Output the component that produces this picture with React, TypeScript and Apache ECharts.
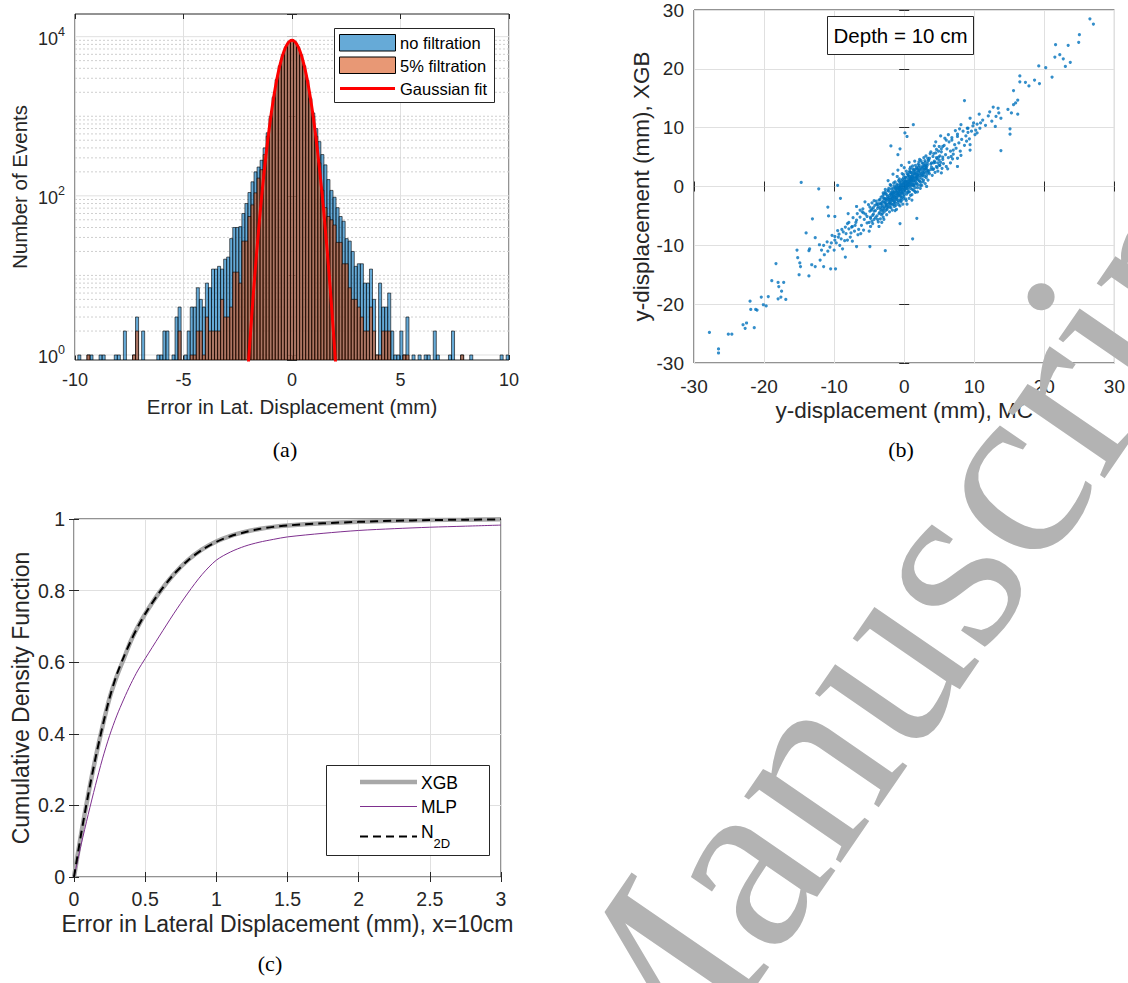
import React, { useEffect, useRef } from 'react';
import * as echarts from 'echarts';

// ---------------- (a) histogram ----------------
const binStart = -10.01;
const binWidth = 0.14;
// counts per bin (143 bins), "no filtration"
const noFiltration = [
  0, 1, 0, 0, 1, 1, 0, 0, 1, 1,
  0, 0, 0, 1, 1, 0, 2, 0, 0, 1,
  3, 0, 2, 0, 0, 0, 0, 1, 1, 2,
  2, 0, 1, 3, 4, 0, 1, 2, 4, 4,
  7, 5, 4, 8, 7, 12, 12, 13, 12, 16,
  17, 29, 40, 40, 41, 60, 80, 110, 150, 200,
  230, 280, 400, 620, 1000, 1750, 2900, 4300, 5900, 7400,
  8600, 9200, 8600, 7400, 5900, 4300, 2850, 1700, 1100, 700,
  480, 330, 245, 160, 117, 96, 71, 55, 48, 29,
  27, 20, 13, 14, 14, 8, 8, 12, 5, 1,
  8, 4, 4, 6, 2, 1, 1, 2, 1, 3,
  0, 1, 0, 1, 0, 1, 1, 0, 2, 1,
  0, 0, 0, 1, 2, 0, 0, 1, 0, 0,
  1, 0, 0, 0, 0, 0, 0, 0, 0, 0,
  1, 0, 1,
];
// counts per bin, "5% filtration"
const filtration5 = [
  0, 0, 0, 0, 1, 0, 0, 0, 0, 0,
  0, 0, 0, 0, 0, 0, 0, 0, 0, 1,
  2, 0, 0, 0, 0, 0, 0, 0, 0, 0,
  0, 0, 0, 0, 2, 0, 0, 0, 1, 1,
  2, 2, 1, 3, 2, 2, 2, 2, 5, 3,
  3, 4, 11, 11, 8, 27, 27, 55, 77, 109,
  167, 213, 330, 560, 950, 1700, 2850, 4250, 5850, 7350,
  8550, 9150, 8550, 7350, 5850, 4250, 2800, 1650, 1000, 560,
  260, 118, 71, 55, 50, 43, 26, 26, 14, 14,
  7, 5, 5, 4, 3, 2, 2, 4, 2, 1,
  1, 2, 2, 2, 0, 0, 0, 0, 1, 1,
  0, 0, 0, 0, 0, 0, 0, 0, 0, 0,
  0, 0, 0, 0, 0, 0, 0, 1, 0, 0,
  0, 0, 0, 0, 0, 0, 0, 0, 0, 0,
  0, 0, 0,
];
const gaussFitX = [-2.1, -2.0, -1.9, -1.8, -1.7, -1.6, -1.5, -1.4, -1.3, -1.2, -1.1, -1.0, -0.9, -0.8, -0.7, -0.6, -0.5, -0.4, -0.3, -0.2, -0.1, 0,
  0.1, 0.2, 0.3, 0.4, 0.5, 0.6, 0.7, 0.8, 0.9, 1.0, 1.1, 1.2, 1.3, 1.4, 1.5, 1.6, 1.7, 1.8, 1.9, 2.0, 2.1];
const gaussFitY = [0.33, 0.86, 2.1, 5.0, 11.2, 24, 49, 97, 181, 322, 548, 891, 1380, 2050, 2900, 3910, 5050, 6210, 7310, 8200, 8790, 9000,
  8790, 8200, 7310, 6210, 5050, 3910, 2900, 2050, 1380, 891, 548, 322, 181, 97, 49, 24, 11.2, 5.0, 2.1, 0.86, 0.33];
const histYMin = 0.865;
const histYMax = 19270;
const histMajorGrid = [1, 100, 10000];
const histMinorGrid = [2, 3, 4, 5, 6, 7, 8, 9, 10, 20, 30, 40, 50, 60, 70, 80, 90,
  200, 300, 400, 500, 600, 700, 800, 900, 1000, 2000, 3000, 4000, 5000, 6000, 7000, 8000, 9000];

// ---------------- (b) scatter: MC vs XGB ----------------
const scatterTails = [
  [26.5, 28.5], [27.0, 27.6], [25.0, 25.8], [24.9, 24.5], [23.4, 24.0], [21.6, 24.1], [22.2, 22.4], [22.7, 21.7], [21.5, 22.0], [23.7, 21.1],
  [23.0, 20.4], [21.1, 18.6], [19.2, 20.5], [20.2, 20.2], [19.3, 17.5], [18.6, 18.1], [17.8, 17.1], [17.3, 17.7], [16.5, 18.8], [16.5, 17.8],
  [15.6, 16.3], [16.2, 14.7], [15.9, 14.2], [15.6, 13.9], [14.8, 13.1], [15.3, 12.5], [16.2, 12.3], [13.4, 13.3], [12.7, 13.5], [13.5, 12.5],
  [13.1, 11.9], [13.8, 11.6], [12.2, 12.7], [10.7, 12.3], [10.9, 10.8], [13.0, 10.2], [15.1, 9.8], [15.1, 8.9], [13.8, 6.1], [8.6, 14.6],
  [9.4, 11.6], [9.9, 10.8], [8.1, 10.5], [10.2, 9.6], [9.0, 9.9], [9.1, 9.2], [10.4, 9.1], [7.6, 8.5], [9.4, 7.1], [9.4, 6.2],
  [6.3, 8.8], [5.2, 8.6], [6.8, 7.9], [5.5, 6.8], [7.0, 6.2], [7.6, 4.8], [6.6, 4.0], [7.6, 3.4], [6.0, 3.4], [5.3, 2.3], [4.8, 4.0],
  [1.3, 10.5], [0.1, 9.1], [0.4, 8.5], [-0.6, 6.4], [-1.9, 6.9], [-0.9, 5.4], [-9.5, 0.2], [-12.2, -0.4], [-14.7, 0.7], [-9.1, -2.0],
  [-10.9, -3.5], [-10.8, -5.0], [-13.1, -5.5], [-9.9, -5.1], [-14.0, -7.9], [-12.7, -8.7], [-12.1, -9.9], [-13.5, -10.6], [-13.6, -10.9], [-15.3, -10.8],
  [-15.2, -12.1], [-14.9, -13.0], [-14.8, -13.6], [-15.0, -15.0], [-13.6, -15.2], [-13.2, -13.3], [-12.7, -13.6], [-12.0, -12.5], [-11.5, -13.6], [-10.5, -14.0],
  [-9.8, -14.0], [-10.9, -11.0], [-11.5, -10.0], [-10.4, -9.6], [-9.9, -9.1], [-9.4, -8.6], [-8.4, -12.0], [-6.8, -10.2], [-4.9, -10.2], [-2.7, -10.9],
  [1.2, -8.9], [1.8, -5.4], [-0.6, -6.3], [-3.6, -6.8], [-3.2, -6.1],
  [-18.3, -13.1], [-18.0, -16.3], [-17.9, -17.0], [-17.2, -16.3], [-17.5, -17.8], [-17.6, -18.8], [-18.0, -19.1], [-16.9, -19.2], [-19.4, -18.7], [-20.4, -18.8],
  [-20.1, -20.1], [-19.7, -20.3], [-22.0, -19.5], [-21.9, -20.9], [-21.2, -20.9], [-21.0, -21.0], [-23.0, -23.5], [-22.5, -23.2], [-22.7, -24.1], [-21.4, -24.0],
  [-25.1, -25.1], [-24.6, -25.1], [-27.8, -24.8], [-26.5, -27.6], [-26.5, -28.3], [-18.9, -16.0],
  [-7.9, -6.1], [-7.4, -6.8], [-6.8, -5.7], [-5.8, -4.5], [-5.3, -5.1], [-7.6, -7.9], [-8.9, -7.3], [-9.9, -8.5], [-8.1, -9.1], [-6.6, -8.2],
  [-5.8, -7.4], [-4.8, -5.4], [-4.3, -4.2], [-3.7, -3.4], [-6.3, -4.0],
];
const scatterBandUpper = [
  [3.6, 4.8], [3.9, 3.3], [4.2, 5.6], [4.4, 4.1], [4.6, 6.3], [4.9, 5.0], [5.1, 3.6], [5.3, 5.9], [5.5, 4.6], [5.7, 7.0],
  [5.9, 5.4], [6.1, 6.4], [6.3, 4.9], [6.4, 7.6], [6.6, 6.0], [6.8, 8.3], [7.0, 5.5], [7.2, 7.1], [7.4, 6.5], [7.6, 8.9],
  [7.8, 7.4], [8.0, 6.0], [8.2, 8.0], [8.4, 9.4], [8.6, 7.0], [8.8, 8.6], [9.1, 9.9], [9.3, 8.1], [9.6, 9.4], [9.8, 10.3],
  [10.1, 8.8], [10.4, 10.6], [10.8, 9.9], [11.2, 11.3], [11.6, 10.4], [12.0, 12.0], [12.5, 11.1], [3.8, 5.9], [4.1, 2.9], [4.7, 3.2],
  [5.0, 6.8], [5.6, 3.9], [6.0, 7.9], [6.9, 4.7], [7.3, 9.5], [8.1, 5.3], [4.3, 6.9], [3.5, 2.6], [5.8, 8.2], [6.7, 5.1],
  [7.9, 9.8], [8.9, 7.7], [6.2, 3.0], [4.5, 7.6],
];
const scatterBandLower = [
  [-3.6, -4.6], [-3.9, -2.9], [-4.1, -5.3], [-4.4, -3.6], [-4.6, -5.9], [-4.9, -4.2], [-5.1, -3.1], [-5.3, -6.2], [-5.5, -4.7], [-5.7, -5.6],
  [-5.9, -3.8], [-6.1, -6.6], [-6.3, -5.2], [-6.5, -7.3], [-6.7, -4.6], [-6.9, -6.1], [-7.1, -7.6], [-7.3, -5.3], [-7.5, -6.9], [-7.7, -8.6],
  [-7.9, -7.2], [-8.1, -6.3], [-8.3, -8.0], [-8.5, -9.2], [-8.7, -7.7], [-9.0, -8.9], [-9.2, -10.0], [-9.5, -7.5], [-9.7, -9.6], [-10.0, -10.8],
  [-10.3, -8.3], [-10.6, -10.3], [-11.0, -9.4], [-11.4, -11.6], [-11.8, -10.8], [-3.8, -5.6], [-4.3, -2.4], [-4.8, -6.8], [-5.6, -2.6], [-6.2, -8.0],
  [-6.8, -3.4], [-7.4, -9.3], [-8.0, -4.6], [-8.8, -10.6], [-5.0, -7.6], [-6.0, -4.3], [-7.0, -6.6], [-8.4, -6.9], [-9.3, -8.1], [-4.5, -4.9],
];
const scatterCore = [
  [-3.4, -3.6], [-3.3, -2.9], [-3.2, -4.1], [-3.1, -3.2], [-3.0, -2.5], [-2.9, -3.7], [-2.8, -2.8], [-2.7, -2.1], [-2.6, -3.3], [-2.5, -2.4],
  [-2.4, -1.7], [-2.3, -3.0], [-2.2, -2.2], [-2.1, -1.5], [-2.0, -2.7], [-1.9, -1.9], [-1.8, -1.2], [-1.7, -2.4], [-1.6, -1.6], [-1.5, -0.9],
  [-1.4, -2.1], [-1.3, -1.3], [-1.2, -0.6], [-1.1, -1.8], [-1.0, -1.0], [-0.9, -0.3], [-0.8, -1.5], [-0.7, -0.7], [-0.6, 0.0], [-0.5, -1.2],
  [-0.4, -0.4], [-0.3, 0.3], [-0.2, -0.9], [-0.1, -0.1], [0.0, 0.6], [0.1, -0.6], [0.2, 0.2], [0.3, 0.9], [0.4, -0.3], [0.5, 0.5],
  [0.6, 1.2], [0.7, 0.0], [0.8, 0.8], [0.9, 1.5], [1.0, 0.3], [1.1, 1.1], [1.2, 1.8], [1.3, 0.6], [1.4, 1.4], [1.5, 2.1],
  [1.6, 0.9], [1.7, 1.7], [1.8, 2.4], [1.9, 1.2], [2.0, 2.0], [2.1, 2.7], [2.2, 1.5], [2.3, 2.3], [2.4, 3.0], [2.5, 1.8],
  [2.6, 2.6], [2.7, 3.3], [2.8, 2.1], [2.9, 2.9], [3.0, 3.6], [3.1, 2.4], [3.2, 3.2], [3.3, 3.9], [3.4, 2.7],
  [-3.45, -2.2], [-3.25, -4.8], [-3.05, -1.6], [-2.85, -4.3], [-2.65, -1.2], [-2.45, -3.9], [-2.25, -0.8], [-2.05, -3.5], [-1.85, -0.4], [-1.65, -3.1],
  [-1.45, 0.1], [-1.25, -2.8], [-1.05, 0.4], [-0.85, -2.4], [-0.65, 0.8], [-0.45, -2.0], [-0.25, 1.2], [-0.05, -1.7], [0.15, 1.6], [0.35, -1.3],
  [0.55, 2.0], [0.75, -0.9], [0.95, 2.4], [1.15, -0.5], [1.35, 2.8], [1.55, -0.2], [1.75, 3.2], [1.95, 0.3], [2.15, 3.6], [2.35, 0.7],
  [2.55, 4.0], [2.75, 1.1], [2.95, 4.4], [3.15, 1.5], [3.35, 4.8],
  [-3.35, -3.0], [-3.15, -3.5], [-2.95, -2.0], [-2.75, -2.6], [-2.55, -2.9], [-2.35, -2.0], [-2.15, -2.5], [-1.95, -1.3], [-1.75, -2.0], [-1.55, -1.2],
  [-1.35, -1.8], [-1.15, -0.9], [-0.95, -1.4], [-0.75, -0.2], [-0.55, -0.8], [-0.35, -1.1], [-0.15, 0.4], [0.05, -0.3], [0.25, 0.7], [0.45, 0.1],
  [0.65, 0.5], [0.85, 1.3], [1.05, 0.9], [1.25, 1.5], [1.45, 1.0], [1.65, 2.2], [1.85, 1.6], [2.05, 2.5], [2.25, 1.9], [2.45, 2.2],
  [2.65, 3.0], [2.85, 2.5], [3.05, 3.1], [3.25, 2.8], [-0.05, 0.9], [0.15, -0.9], [0.35, 0.4], [-0.25, -0.5], [0.55, -0.5], [-0.45, 0.6],
  [0.75, 1.7], [-0.65, -1.6], [0.95, 0.1], [-0.85, 0.2], [1.15, 2.0], [-1.05, -2.2], [1.35, 0.2], [-1.25, -0.2], [1.55, 2.6], [-1.45, -2.5],
  [1.75, 0.6], [-1.65, -0.8], [1.95, 2.9], [-1.85, -2.9],
  [-2.9, -1.3], [-2.6, -4.0], [-2.2, -0.3], [-1.9, -3.6], [-1.5, 0.6], [-1.2, -3.2], [-0.8, 1.0], [-0.5, -2.6], [-0.1, 1.5], [0.2, -2.1],
  [0.6, 1.9], [0.9, -1.5], [1.3, 2.5], [1.6, -1.0], [2.0, 3.3], [2.3, -0.3], [2.7, 3.9], [3.0, 0.5], [3.4, 4.3], [-0.3, 2.2],
  [0.3, 2.6], [-0.6, -3.3], [0.8, 3.0], [-1.0, 1.7], [1.1, -2.3], [-1.6, 2.1], [1.9, -0.9], [-2.3, 1.0], [2.5, 0.2], [0.0, 3.2],
  [0.4, -3.0], [-0.9, 2.8], [1.2, 3.5], [-1.3, -4.1], [-2.0, 0.3], [2.2, 4.6], [3.2, 0.0], [-3.0, -5.2], [0.7, 4.1], [-0.4, 3.6],
  [1.5, 4.3], [-2.7, -0.5],
  [-0.2, 0.1], [0.1, 0.3], [0.3, -0.1], [-0.4, -0.2], [0.5, 0.8], [-0.6, -0.5], [0.7, 0.4], [-0.8, -0.9], [0.9, 0.7], [-1.0, -0.6],
  [1.1, 1.4], [-1.2, -1.5], [1.3, 1.0], [-1.4, -1.0], [1.5, 1.6], [-1.6, -2.0], [1.7, 1.3], [-1.8, -1.6], [1.9, 2.0], [-2.0, -2.2],
  [0.0, -0.5], [0.2, 0.9], [-0.1, 0.7], [0.4, 0.1], [-0.3, -0.8], [0.6, 0.2], [-0.5, 0.2], [0.8, 1.1], [-0.7, -1.2], [1.0, 1.7],
];
const scatterCoreWide = [
  [-5.0, -6.1], [-4.9, -3.5], [-4.8, -5.2], [-4.7, -4.0], [-4.6, -2.8], [-4.5, -6.3], [-4.4, -4.7], [-4.3, -5.6], [-4.2, -3.2], [-4.1, -4.1],
  [-4.0, -2.5], [-3.9, -5.0], [-3.8, -3.7], [-3.7, -6.0], [-3.6, -2.3], [-3.5, -4.4], [-3.4, -5.5], [-3.3, -1.8], [-3.2, -2.7], [-3.1, -4.6],
  [-3.0, -1.1], [-2.9, -5.6], [-2.8, -3.5], [-2.7, -0.9], [-2.6, -2.2], [-2.5, -4.8], [-2.4, -3.6], [-2.3, -0.6], [-2.2, -1.9], [-2.1, -4.3],
  [-2.0, -3.1], [-1.9, 0.2], [-1.8, -2.3], [-1.7, -4.0], [-1.6, -0.3], [-1.5, -1.7], [-1.4, -3.4], [-1.3, 0.8], [-1.2, -2.2], [-1.1, -3.9],
  [-1.0, -0.2], [-0.9, -1.2], [-0.8, -3.1], [-0.7, 1.3], [-0.6, -2.3], [-0.5, -0.3], [-0.4, 1.0], [-0.3, -1.8], [-0.2, -3.0], [-0.1, 2.0],
  [0.0, -1.4], [0.1, 1.2], [0.2, -0.4], [0.3, -2.4], [0.4, 2.2], [0.5, -1.0], [0.6, 0.9], [0.7, -2.0], [0.8, 2.6], [0.9, -0.3],
  [1.0, 1.2], [1.1, -1.4], [1.2, 3.0], [1.3, 0.1], [1.4, 2.2], [1.5, -0.8], [1.6, 3.6], [1.7, 0.4], [1.8, 1.4], [1.9, -0.2],
  [2.0, 3.8], [2.1, 1.0], [2.2, 2.8], [2.3, 0.2], [2.4, 4.4], [2.5, 1.3], [2.6, 3.4], [2.7, 0.8], [2.8, 4.9], [2.9, 1.7],
  [3.0, 3.0], [3.1, 5.2], [3.2, 1.9], [3.3, 3.6], [3.4, 1.1], [3.5, 4.5], [3.6, 2.2], [3.7, 5.6], [3.8, 2.9], [3.9, 4.0],
  [4.0, 1.9], [4.1, 5.1], [4.2, 3.0], [4.3, 4.3], [4.4, 2.4], [4.5, 5.7], [4.6, 3.4], [4.7, 4.7], [4.8, 2.6], [4.9, 6.0],
  [5.0, 3.6], [5.1, 5.2], [5.2, 4.1], [5.3, 6.4], [5.4, 3.1], [5.5, 5.0],
  [-4.6, -3.8], [-3.9, -3.1], [-3.4, -3.9], [-2.8, -2.0], [-2.3, -3.4], [-1.9, -1.0], [-1.4, -2.6], [-1.0, -1.9], [-0.6, 0.4], [-0.2, -1.2],
  [0.2, 1.5], [0.6, -0.9], [1.0, 2.3], [1.4, 0.3], [1.8, 3.0], [2.2, 0.9], [2.6, 1.9], [3.0, 4.1], [3.4, 2.3], [3.8, 3.8],
  [4.2, 4.0], [4.6, 4.9], [5.0, 4.5], [-1.7, -1.3], [-1.3, -0.3], [-0.9, -2.7], [-0.5, -1.6], [-0.1, -2.1], [0.3, 0.0], [0.7, 2.4],
  [1.1, 0.4], [1.5, 2.9], [1.9, 1.8], [2.3, 3.2], [2.7, 2.3], [3.1, 3.4], [-2.5, -1.4], [-2.1, -2.8], [-1.5, -3.0], [-0.4, -2.4],
  [0.5, 1.6], [0.9, 3.3], [1.3, -0.6], [2.1, 4.2], [2.9, 3.6], [-3.6, -2.9], [-3.0, -4.0], [-2.6, -3.1], [-1.1, 0.1], [-0.7, -0.4],
];

// ---------------- (c) CDF ----------------
const cdfErrorMm = [0, 0.05, 0.1, 0.15, 0.2, 0.25, 0.3, 0.35, 0.4, 0.45, 0.5, 0.6, 0.7, 0.8, 0.9, 1.0, 1.1, 1.2, 1.3, 1.4, 1.5, 1.75, 2.0, 2.25, 2.5, 2.75, 3.0];
const cdfXgb = [0, 0.12, 0.23, 0.33, 0.42, 0.50, 0.56, 0.61, 0.66, 0.70, 0.735, 0.795, 0.845, 0.885, 0.915, 0.937, 0.953, 0.964, 0.972, 0.978, 0.982, 0.988, 0.992, 0.995, 0.997, 0.998, 0.999];
const cdfMlp = [0, 0.09, 0.175, 0.255, 0.33, 0.395, 0.45, 0.497, 0.54, 0.578, 0.61, 0.673, 0.735, 0.793, 0.845, 0.885, 0.908, 0.924, 0.935, 0.943, 0.95, 0.96, 0.968, 0.973, 0.977, 0.98, 0.983];
const cdfN2d = [0, 0.12, 0.23, 0.33, 0.42, 0.50, 0.565, 0.615, 0.66, 0.70, 0.735, 0.795, 0.845, 0.884, 0.914, 0.936, 0.952, 0.963, 0.972, 0.978, 0.982, 0.988, 0.992, 0.995, 0.997, 0.998, 0.999];

const AX = '#262626';
const GRID_C = '#e0e0e0';
const FONT = '"Liberation Sans", Arial, Helvetica, sans-serif';
const SERIF = '"Liberation Serif", "Times New Roman", serif';

function boxAxisX(gridIndex: number, min: number, max: number, interval: number) {
  return {
    gridIndex, type: 'value', position: 'top', min, max, interval,
    axisLine: { show: false }, axisLabel: { show: false }, splitLine: { show: false },
    axisTick: { show: true, inside: true, length: 5, lineStyle: { color: AX } },
  };
}
function boxAxisY(gridIndex: number, min: number, max: number, interval: number) {
  return {
    gridIndex, type: 'value', position: 'right', min, max, interval,
    axisLine: { show: false }, axisLabel: { show: false }, splitLine: { show: false },
    axisTick: { show: true, inside: true, length: 5, lineStyle: { color: AX } },
  };
}
function mainX(gridIndex: number, min: number, max: number, interval: number, name: string, fs: number, nfs: number, margin: number, gap: number) {
  return {
    gridIndex, type: 'value', position: 'bottom', min, max, interval,
    axisLine: { show: false },
    axisTick: { show: true, inside: true, length: 5, lineStyle: { color: AX } },
    axisLabel: { color: AX, fontSize: fs, fontFamily: FONT, margin, showMinLabel: true, showMaxLabel: true, hideOverlap: false },
    splitLine: { show: true, lineStyle: { color: GRID_C, width: 1 } },
    name, nameLocation: 'middle', nameGap: gap,
    nameTextStyle: { color: AX, fontSize: nfs, fontFamily: FONT },
  };
}
function mainY(gridIndex: number, min: number, max: number, interval: number, name: string, fs: number, nfs: number, margin: number, gap: number) {
  return {
    gridIndex, type: 'value', position: 'left', min, max, interval,
    axisLine: { show: false },
    axisTick: { show: true, inside: true, length: 5, lineStyle: { color: AX } },
    axisLabel: { color: AX, fontSize: fs, fontFamily: FONT, margin, showMinLabel: true, showMaxLabel: true, hideOverlap: false },
    splitLine: { show: true, lineStyle: { color: GRID_C, width: 1 } },
    name, nameLocation: 'middle', nameGap: gap, nameRotate: 90,
    nameTextStyle: { color: AX, fontSize: nfs, fontFamily: FONT },
  };
}

function histBars(counts: number[]) {
  const out: number[][] = [];
  counts.forEach((c, i) => {
    if (c > 0) out.push([binStart + i * binWidth, binStart + (i + 1) * binWidth, c]);
  });
  return out;
}

function barRender(fill: string) {
  return (params: any, api: any) => {
    const x0 = api.value(0);
    const x1 = api.value(1);
    const c = api.value(2);
    const p0 = api.coord([x0, c]);
    const p1 = api.coord([x1, histYMin]);
    return {
      type: 'rect',
      shape: { x: p0[0], y: p0[1], width: p1[0] - p0[0], height: p1[1] - p0[1] },
      style: { fill, stroke: '#000', lineWidth: 0.6 },
    };
  };
}

function gridRender(dashed: boolean) {
  return (params: any, api: any) => {
    const v = api.value(1);
    const a = api.coord([-10, v]);
    const b = api.coord([10, v]);
    return {
      type: 'line',
      shape: { x1: a[0], y1: a[1], x2: b[0], y2: b[1] },
      style: dashed
        ? { stroke: '#cfcfcf', lineWidth: 1, lineDash: [2, 2] }
        : { stroke: GRID_C, lineWidth: 1 },
    };
  };
}

export default function App() {
  const ref = useRef<HTMLDivElement>(null);
  useEffect(() => {
    document.body.style.margin = '0';
    if (!ref.current) return;
    const chart = echarts.init(ref.current, undefined, { renderer: 'svg' });
    const logLabel = (v: number) => {
      const l = Math.log10(v);
      const e = Math.round(l);
      if (Math.abs(l - e) > 1e-6 || e % 2 !== 0) return '';
      return '{b|10}{s|' + e + '}';
    };
    const option: any = {
      animation: false,
      backgroundColor: '#fff',
      grid: [
        { left: 75, top: 14, width: 434, height: 346, show: true, borderColor: AX, borderWidth: 1, backgroundColor: '#fff', containLabel: false },
        { left: 694, top: 10, width: 423, height: 353, show: true, borderColor: AX, borderWidth: 1, backgroundColor: '#fff', containLabel: false },
        { left: 74, top: 519, width: 427, height: 358, show: true, borderColor: AX, borderWidth: 1, backgroundColor: '#fff', containLabel: false },
      ],
      xAxis: [
        mainX(0, -10, 10, 5, 'Error in Lat. Displacement (mm)', 18, 20.5, 11, 36),
        boxAxisX(0, -10, 10, 5),
        mainX(1, -30, 30, 10, 'y-displacement (mm), MC', 19, 22.5, 14, 36),
        boxAxisX(1, -30, 30, 10),
        mainX(2, 0, 3, 0.5, 'Error in Lateral Displacement (mm), x=10cm', 19.5, 23, 12, 35),
        boxAxisX(2, 0, 3, 0.5),
      ],
      yAxis: [
        {
          gridIndex: 0, type: 'log', logBase: 10, min: histYMin, max: histYMax, position: 'left',
          axisLine: { show: false },
          axisTick: { show: true, inside: true, length: 5, lineStyle: { color: AX } },
          splitLine: { show: false },
          axisLabel: {
            formatter: logLabel, margin: 10, showMinLabel: true, showMaxLabel: true,
            rich: {
              b: { fontSize: 18, color: AX, fontFamily: FONT, verticalAlign: 'bottom' },
              s: { fontSize: 12.5, color: AX, fontFamily: FONT, verticalAlign: 'top', padding: [0, 0, 9, 0] },
            },
          },
          name: 'Number of Events', nameLocation: 'middle', nameGap: 45, nameRotate: 90,
          nameTextStyle: { color: AX, fontSize: 20.5, fontFamily: FONT },
        },
        {
          gridIndex: 0, type: 'log', logBase: 10, min: histYMin, max: histYMax, position: 'right',
          axisLine: { show: false }, axisLabel: { show: false }, splitLine: { show: false },
          axisTick: { show: true, inside: true, length: 5, lineStyle: { color: AX } },
        },
        mainY(1, -30, 30, 10, 'y-displacement (mm), XGB', 19, 22.5, 10, 39),
        boxAxisY(1, -30, 30, 10),
        mainY(2, 0, 1, 0.2, 'Cumulative Density Function', 19.5, 23, 9, 42),
        boxAxisY(2, 0, 1, 0.2),
      ],
      series: [
        {
          type: 'custom', xAxisIndex: 0, yAxisIndex: 0, z: 1, silent: true,
          data: histMinorGrid.map((v) => [0, v]), renderItem: gridRender(true), encode: { x: 0, y: 1 },
        },
        {
          type: 'custom', xAxisIndex: 0, yAxisIndex: 0, z: 1, silent: true,
          data: histMajorGrid.map((v) => [0, v]), renderItem: gridRender(false), encode: { x: 0, y: 1 },
        },
        {
          type: 'custom', name: 'no filtration', xAxisIndex: 0, yAxisIndex: 0, z: 2, clip: true,
          data: histBars(noFiltration), renderItem: barRender('rgba(0,114,189,0.6)'), encode: { x: [0, 1], y: 2 },
        },
        {
          type: 'custom', name: '5% filtration', xAxisIndex: 0, yAxisIndex: 0, z: 3, clip: true,
          data: histBars(filtration5), renderItem: barRender('rgba(217,83,25,0.6)'), encode: { x: [0, 1], y: 2 },
        },
        {
          type: 'line', name: 'Gaussian fit', xAxisIndex: 0, yAxisIndex: 0, z: 4,
          data: gaussFitX.map((x, i) => [x, gaussFitY[i]]),
          showSymbol: false, symbol: 'none', smooth: 0.3, clip: true,
          lineStyle: { color: '#ff0000', width: 3 },
        },
        {
          type: 'scatter', xAxisIndex: 2, yAxisIndex: 2, z: 3,
          data: [...scatterTails, ...scatterBandUpper, ...scatterBandLower, ...scatterCore, ...scatterCoreWide],
          symbol: 'circle', symbolSize: 3.2, itemStyle: { color: '#0072BD' },
        },
        {
          type: 'line', name: 'XGB', xAxisIndex: 4, yAxisIndex: 4, z: 3,
          data: cdfErrorMm.map((x, i) => [x, cdfXgb[i]]), showSymbol: false, symbol: 'none', smooth: 0.3,
          lineStyle: { color: '#a8a8a8', width: 4.5 },
        },
        {
          type: 'line', name: 'MLP', xAxisIndex: 4, yAxisIndex: 4, z: 4,
          data: cdfErrorMm.map((x, i) => [x, cdfMlp[i]]), showSymbol: false, symbol: 'none', smooth: 0.3,
          lineStyle: { color: '#7E2F8E', width: 1 },
        },
        {
          type: 'line', name: 'N2D', xAxisIndex: 4, yAxisIndex: 4, z: 5,
          data: cdfErrorMm.map((x, i) => [x, cdfN2d[i]]), showSymbol: false, symbol: 'none', smooth: 0.3,
          lineStyle: { color: '#000', width: 2, type: [8, 5] },
        },
      ],
      graphic: {
        elements: [
          // legend (a)
          { type: 'rect', z: 50, shape: { x: 334.5, y: 28.5, width: 160, height: 74 }, style: { fill: '#fff', stroke: AX, lineWidth: 1 } },
          { type: 'rect', z: 51, shape: { x: 339.5, y: 34.5, width: 56, height: 16.5 }, style: { fill: 'rgba(0,114,189,0.6)', stroke: '#000', lineWidth: 1 } },
          { type: 'rect', z: 51, shape: { x: 339.5, y: 57, width: 56, height: 16.5 }, style: { fill: 'rgba(217,83,25,0.6)', stroke: '#000', lineWidth: 1 } },
          { type: 'line', z: 51, shape: { x1: 340, y1: 88.5, x2: 395, y2: 88.5 }, style: { stroke: '#ff0000', lineWidth: 3 } },
          { type: 'text', z: 51, x: 400, y: 43, style: { text: 'no filtration', fill: '#000', fontSize: 16.5, fontFamily: FONT, align: 'left', verticalAlign: 'middle', textAlign: 'left', textVerticalAlign: 'middle' } },
          { type: 'text', z: 51, x: 400, y: 66, style: { text: '5% filtration', fill: '#000', fontSize: 16.5, fontFamily: FONT, align: 'left', verticalAlign: 'middle', textAlign: 'left', textVerticalAlign: 'middle' } },
          { type: 'text', z: 51, x: 400, y: 89, style: { text: 'Gaussian fit', fill: '#000', fontSize: 16.5, fontFamily: FONT, align: 'left', verticalAlign: 'middle', textAlign: 'left', textVerticalAlign: 'middle' } },
          // legend (b)
          { type: 'rect', z: 50, shape: { x: 827.5, y: 16.5, width: 146, height: 38 }, style: { fill: '#fff', stroke: AX, lineWidth: 1 } },
          { type: 'text', z: 51, x: 900.5, y: 35.5, style: { text: 'Depth = 10 cm', fill: '#000', fontSize: 20.5, fontFamily: FONT, align: 'center', verticalAlign: 'middle', textAlign: 'center', textVerticalAlign: 'middle' } },
          // legend (c)
          { type: 'rect', z: 50, shape: { x: 326.5, y: 765.5, width: 163, height: 90 }, style: { fill: '#fff', stroke: AX, lineWidth: 1 } },
          { type: 'line', z: 51, shape: { x1: 360, y1: 782, x2: 417, y2: 782 }, style: { stroke: '#a8a8a8', lineWidth: 4.5 } },
          { type: 'line', z: 51, shape: { x1: 360, y1: 806.5, x2: 417, y2: 806.5 }, style: { stroke: '#7E2F8E', lineWidth: 1 } },
          { type: 'line', z: 51, shape: { x1: 360, y1: 836.5, x2: 417, y2: 836.5 }, style: { stroke: '#000', lineWidth: 2, lineDash: [8, 5] } },
          { type: 'text', z: 51, x: 421, y: 782.5, style: { text: 'XGB', fill: '#000', fontSize: 17.5, fontFamily: FONT, align: 'left', verticalAlign: 'middle', textAlign: 'left', textVerticalAlign: 'middle' } },
          { type: 'text', z: 51, x: 421, y: 807, style: { text: 'MLP', fill: '#000', fontSize: 17.5, fontFamily: FONT, align: 'left', verticalAlign: 'middle', textAlign: 'left', textVerticalAlign: 'middle' } },
          { type: 'text', z: 51, x: 421, y: 831.5, style: { text: 'N', fill: '#000', fontSize: 17.5, fontFamily: FONT, align: 'left', verticalAlign: 'middle', textAlign: 'left', textVerticalAlign: 'middle' } },
          { type: 'text', z: 51, x: 433.5, y: 843.5, style: { text: '2D', fill: '#000', fontSize: 13, fontFamily: FONT, align: 'left', verticalAlign: 'middle', textAlign: 'left', textVerticalAlign: 'middle' } },
          // panel captions
          { type: 'text', z: 51, x: 285, y: 449, style: { text: '(a)', fill: '#000', fontSize: 22, fontFamily: SERIF, align: 'center', verticalAlign: 'middle', textAlign: 'center', textVerticalAlign: 'middle' } },
          { type: 'text', z: 51, x: 901, y: 449, style: { text: '(b)', fill: '#000', fontSize: 22, fontFamily: SERIF, align: 'center', verticalAlign: 'middle', textAlign: 'center', textVerticalAlign: 'middle' } },
          { type: 'text', z: 51, x: 270, y: 963, style: { text: '(c)', fill: '#000', fontSize: 22, fontFamily: SERIF, align: 'center', verticalAlign: 'middle', textAlign: 'center', textVerticalAlign: 'middle' } },
          // watermark
          {
            type: 'text', z: 200, x: 574, y: 1099, rotation: (55.5 * Math.PI) / 180, silent: true,
            style: { text: 'Manuscript', fill: '#b3b3b3', fontSize: 255, fontFamily: SERIF, align: 'left', verticalAlign: 'middle', textAlign: 'left', textVerticalAlign: 'middle' },
          },
        ],
      },
    };
    chart.setOption(option);
    return () => chart.dispose();
  }, []);
  return <div ref={ref} style={{ width: 1128, height: 983 }} />;
}
